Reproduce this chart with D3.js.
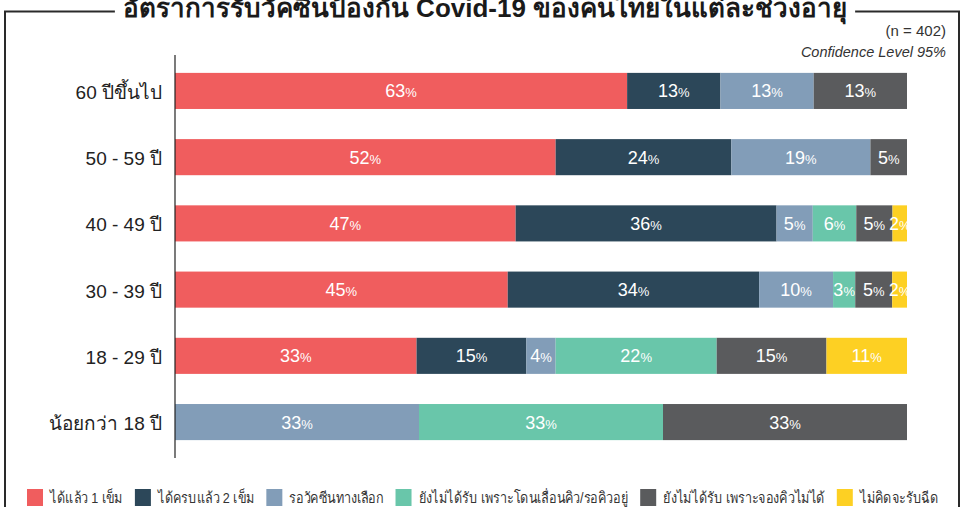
<!DOCTYPE html>
<html>
<head>
<meta charset="utf-8">
<script src="https://cdn.jsdelivr.net/npm/d3@7"></script>
<style>
  body { margin: 0; background: #fff; }
  svg { display: block; font-family: "Liberation Sans", Arial, sans-serif; }
</style>
</head>
<body>
<div id="chart"></div>
<script>
// data
const ageGroups = ["60 ปีขึ้นไป", "50 - 59 ปี", "40 - 49 ปี", "30 - 39 ปี", "18 - 29 ปี", "น้อยกว่า 18 ปี"];
const seriesNames = ["ได้แล้ว 1 เข็ม", "ได้ครบแล้ว 2 เข็ม", "รอวัคซีนทางเลือก",
  "ยังไม่ได้รับ เพราะโดนเลื่อนคิว/รอคิวอยู่", "ยังไม่ได้รับ เพราะจองคิวไม่ได้", "ไม่คิดจะรับฉีด"];
const dose1     = [63, 52, 47, 45, 33, 0];
const dose2     = [13, 24, 36, 34, 15, 0];
const waitAlt   = [13, 19, 5, 10, 4, 33];
const postponed = [0, 0, 6, 3, 22, 33];
const noQueue   = [13, 5, 5, 5, 15, 33];
const noIntent  = [0, 0, 2, 2, 11, 0];
const colors = ["#f05d5e", "#2c4759", "#829db8", "#69c6aa", "#5a5b5d", "#fdd023"];

const titleText = "อัตราการรับวัคซีนป้องกัน Covid-19 ของคนไทยในแต่ละช่วงอายุ";

let width = 965, height = 507;

const svg = d3.select("#chart").append("svg")
  .attr("width", width).attr("height", height);

// build table for the stack
const series = [dose1, dose2, waitAlt, postponed, noQueue, noIntent];
const keys = d3.range(series.length);
const table = ageGroups.map((g, i) => {
  const row = { group: g };
  keys.forEach(k => row[k] = series[k][i]);
  return row;
});
const stacked = d3.stack().keys(keys).offset(d3.stackOffsetExpand)(table);

let x = d3.scaleLinear().domain([0, 1]).range([175, 907]);
let y = d3.scaleBand().domain(ageGroups).range([55, 458]).paddingInner(0.455).paddingOuter(0.27);

// frame around everything
const frame = svg.append("g");

// title (cut at the top edge like the original)
const title = svg.append("text")
  .attr("x", 485).attr("y", 17)
  .attr("text-anchor", "middle")
  .attr("font-size", 26).attr("font-weight", "bold")
  .attr("fill", "#1a1a1a")
  .text(titleText);
const tb = title.node().getBBox();
frame.append("path")
  .attr("d", `M${tb.x - 8},11.5 H5 V520 M959,520 V11.5 H${tb.x + tb.width + 8}`)
  .attr("fill", "none").attr("stroke", "#2a2a2a").attr("stroke-width", 2);

svg.append("text").attr("x", 946).attr("y", 36).attr("text-anchor", "end")
  .attr("font-size", 15).attr("fill", "#333").text("(n = 402)");
svg.append("text").attr("x", 946).attr("y", 57).attr("text-anchor", "end")
  .attr("font-size", 14.5).attr("font-style", "italic").attr("fill", "#333").text("Confidence Level 95%");

// bars
const layer = svg.append("g").selectAll("g")
  .data(stacked)
  .join("g")
  .attr("fill", d => colors[d.key]);

layer.selectAll("rect")
  .data(d => d.filter(s => s.data[d.key] > 0).map(s => ({ s, key: d.key })))
  .join("rect")
  .attr("x", d => x(d.s[0]))
  .attr("y", d => y(d.s.data.group))
  .attr("width", d => x(d.s[1]) - x(d.s[0]))
  .attr("height", y.bandwidth());

// value labels
layer.selectAll("text")
  .data(d => d.filter(s => s.data[d.key] > 0).map(s => ({ s, key: d.key })))
  .join("text")
  .attr("x", d => (x(d.s[0]) + x(d.s[1])) / 2)
  .attr("y", d => y(d.s.data.group) + y.bandwidth() / 2 + 6.5)
  .attr("text-anchor", "middle")
  .attr("fill", "#fff")
  .attr("font-size", 18)
  .call(t => {
    t.append("tspan").text(d => d.s.data[d.key]);
    t.append("tspan").attr("font-size", 13).text("%");
  });

// y axis
svg.append("line")
  .attr("x1", 175).attr("x2", 175).attr("y1", 55).attr("y2", 458)
  .attr("stroke", "#222").attr("stroke-width", 1.2);

svg.append("g").selectAll("text")
  .data(ageGroups)
  .join("text")
  .attr("x", 162)
  .attr("y", d => y(d) + y.bandwidth() / 2 + 8)
  .attr("text-anchor", "end")
  .attr("font-size", 19)
  .attr("fill", "#222")
  .text(d => d);

// legend - the original uses a narrow thai font, so squeeze the text to fit the row
const legend = svg.append("g");
const items = seriesNames.map((name, i) => {
  const r = legend.append("rect")
    .attr("y", 489).attr("width", 16).attr("height", 17)
    .attr("fill", colors[i]);
  const t = legend.append("text")
    .attr("y", 503).attr("font-size", 15).attr("fill", "#333")
    .text(name);
  return { r, t, w: t.node().getComputedTextLength() };
});
const textBudget = 911 - items.length * 23 - (items.length - 1) * 12;
const squeeze = Math.min(1, textBudget / d3.sum(items, d => d.w));
let lx = 27;
items.forEach(d => {
  const w = d.w * squeeze;
  d.r.attr("x", lx);
  d.t.attr("x", lx + 23)
    .attr("textLength", w)
    .attr("lengthAdjust", "spacingAndGlyphs");
  lx += 23 + w + 12;
});
</script>
</body>
</html>
